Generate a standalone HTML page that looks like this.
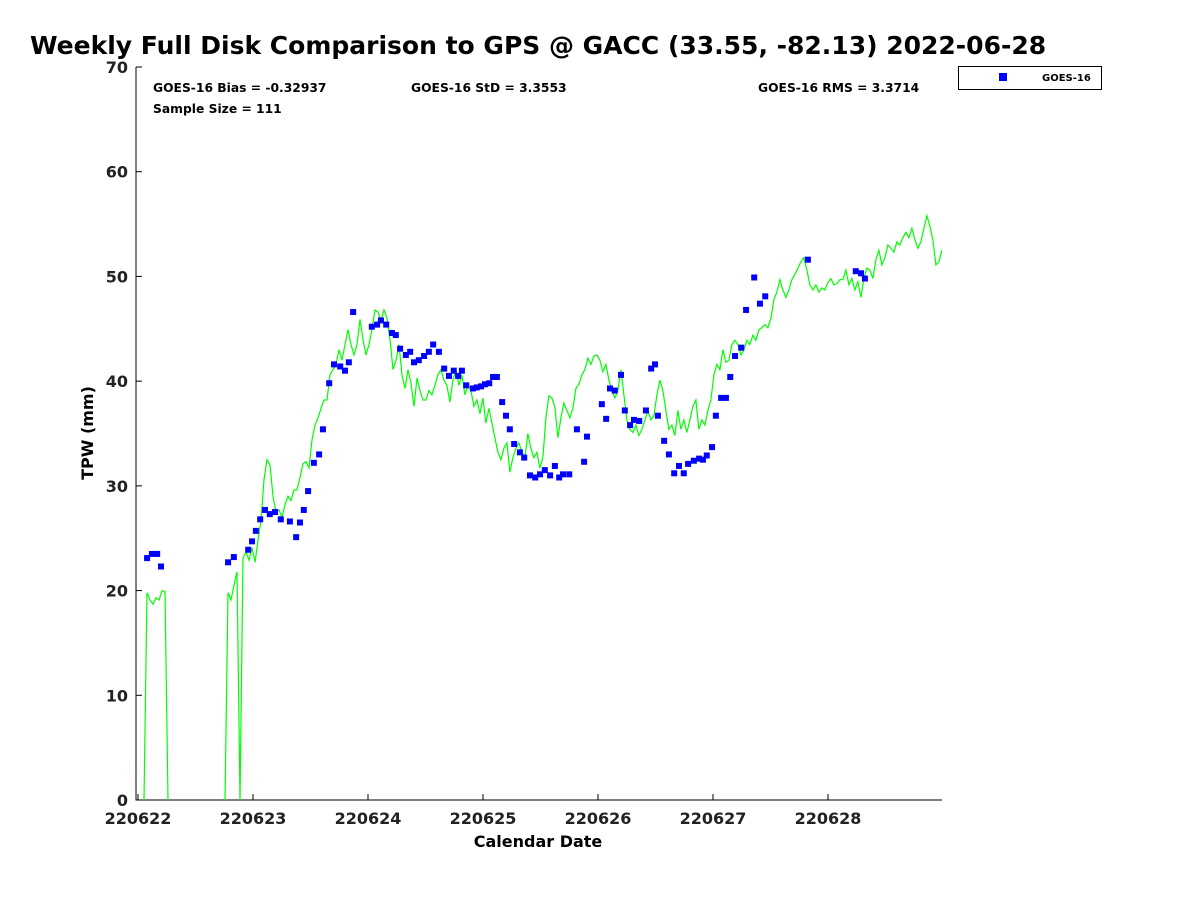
<!DOCTYPE html>
<html><head><meta charset="utf-8"><style>
body{margin:0;background:#fff;}
svg{display:block;font-family:"DejaVu Sans","Liberation Sans",sans-serif;}
</style></head><body>
<svg id="chart" width="1200" height="900" viewBox="0 0 1200 900" xmlns="http://www.w3.org/2000/svg">
<rect width="1200" height="900" fill="#fff"/>
<text x="30" y="54" font-size="25" font-weight="bold">Weekly Full Disk Comparison to GPS @ GACC (33.55, -82.13) 2022-06-28</text>
<g id="plot"></g>
<text x="153" y="92" font-size="12.3" font-weight="bold">GOES-16 Bias = -0.32937</text>
<text x="411" y="92" font-size="12.3" font-weight="bold">GOES-16 StD = 3.3553</text>
<text x="758" y="92" font-size="12.3" font-weight="bold">GOES-16 RMS = 3.3714</text>
<text x="153" y="113" font-size="12.3" font-weight="bold">Sample Size = 111</text>
<g>
<rect x="958.5" y="66.5" width="143" height="23" fill="#fff" stroke="#000" stroke-width="1"/>
<rect x="999" y="73" width="8" height="8" fill="#0000ff"/>
<text x="1042" y="81" font-size="10" font-weight="bold">GOES-16</text>
</g>
<text x="538" y="847" font-size="16" font-weight="bold" text-anchor="middle">Calendar Date</text>
<text transform="translate(93,433) rotate(-90)" font-size="16" font-weight="bold" text-anchor="middle">TPW (mm)</text>
</svg>
<script>
const xTickLabels=["220622","220623","220624","220625","220626","220627","220628"];
const yTickValues=[0,10,20,30,40,50,60,70];
const goesHours=[1.9,2.9,4.0,4.8,18.8,20.0,23.0,23.8,24.6,25.5,26.5,27.5,28.6,29.8,31.7,33.0,33.8,34.6,35.5,36.7,37.8,38.6,39.9,40.9,42.2,43.2,44.0,44.9,48.8,49.9,50.7,51.8,53.0,53.8,54.7,55.9,56.8,57.6,58.6,59.7,60.7,61.6,62.8,63.9,64.9,65.9,66.8,67.6,68.5,69.9,70.7,71.6,72.4,73.3,74.1,74.9,76.0,76.8,77.6,78.5,79.7,80.6,81.8,82.9,83.9,84.9,86.0,87.0,87.9,88.7,90.0,91.6,93.1,93.7,96.8,97.7,98.5,99.5,100.8,101.6,102.7,103.5,104.6,106.0,107.1,107.9,108.5,109.8,110.8,111.9,112.9,113.9,114.8,116.0,117.1,117.9,118.7,119.8,120.6,121.7,122.7,123.6,124.6,125.9,126.9,128.6,129.8,130.9,139.8,149.8,150.9,151.7];
const goesTPW=[23.1,23.5,23.5,22.3,22.7,23.2,23.9,24.7,25.7,26.8,27.7,27.3,27.5,26.8,26.6,25.1,26.5,27.7,29.5,32.2,33.0,35.4,39.8,41.6,41.4,41.0,41.8,46.6,45.2,45.4,45.8,45.4,44.6,44.4,43.1,42.5,42.8,41.8,42.0,42.4,42.8,43.5,42.8,41.2,40.5,41.0,40.5,41.0,39.6,39.3,39.4,39.5,39.7,39.8,40.4,40.4,38.0,36.7,35.4,34.0,33.2,32.7,31.0,30.8,31.1,31.5,31.0,31.9,30.8,31.1,31.1,35.4,32.3,34.7,37.8,36.4,39.3,39.1,40.6,37.2,35.8,36.3,36.2,37.2,41.2,41.6,36.7,34.3,33.0,31.2,31.9,31.2,32.1,32.4,32.6,32.5,32.9,33.7,36.7,38.4,38.4,40.4,42.4,43.2,46.8,49.9,47.4,48.1,51.6,50.5,50.3,49.8];
const gpsStartHour=1.25;
const gpsStepHours=0.626;
const gpsTPW=[0,19.8,19.1,18.7,19.3,19.1,20.0,19.9,0,null,null,null,null,null,null,null,null,null,null,null,null,null,null,null,null,null,null,0,19.8,19.1,20.5,21.8,0,23.1,23.7,22.9,24.1,22.7,24.8,26.7,30.6,32.5,32.0,29.0,27.5,27.7,27.0,28.2,29.0,28.6,29.6,29.6,30.8,32.1,32.3,31.7,34.4,35.8,36.5,37.4,38.2,38.2,40.6,41.1,41.6,43.0,42.0,43.5,44.9,43.5,42.5,43.5,45.9,44.0,42.5,43.5,45.0,46.8,46.6,45.8,46.8,46.0,44.0,41.1,42.0,43.5,40.6,39.3,41.1,39.8,37.6,40.3,39.1,38.2,38.2,39.1,38.7,39.6,40.6,41.1,40.1,39.6,38.0,40.1,41.1,39.6,40.6,38.7,39.6,39.1,37.6,38.2,36.9,38.4,36.0,37.4,36.0,34.6,33.2,32.5,33.6,34.1,31.3,32.7,33.6,34.1,33.2,32.7,35.0,33.6,32.7,33.2,31.7,32.7,36.5,38.6,38.4,37.5,34.6,36.5,37.9,37.2,36.5,37.4,39.3,39.7,40.6,41.1,42.2,41.6,42.4,42.5,42.0,40.9,41.6,40.1,39.1,38.4,39.1,41.1,38.7,36.3,35.4,35.1,35.8,34.8,35.4,36.3,37.2,36.3,36.7,38.7,40.1,39.1,37.2,35.4,35.8,34.8,37.2,35.4,36.3,35.1,36.3,37.6,38.2,35.4,36.3,35.8,37.2,38.2,40.6,41.6,41.1,43.0,41.8,42.0,43.5,43.9,43.5,42.5,43.0,43.9,43.5,44.4,43.9,44.9,45.1,45.4,45.1,46.0,47.8,48.5,49.7,48.7,48.0,48.7,49.7,50.2,50.8,51.4,51.8,50.6,49.2,48.7,49.2,48.5,48.9,48.7,49.4,49.8,49.2,49.3,49.7,49.7,50.6,49.2,49.8,48.7,49.5,48.0,49.8,50.8,50.6,49.8,51.6,52.5,51.1,51.8,53.0,52.7,52.3,53.3,53.0,53.7,54.2,53.7,54.6,53.5,52.7,53.3,54.6,55.8,54.8,53.5,51.1,51.4,52.5];

const NS='http://www.w3.org/2000/svg';
const L=136,R=942,T=67,B=800;
function xs(h){return 138+h*115/24;}
function ys(v){return B-(v/70)*(B-T);}
const g=document.getElementById('plot');
function mk(tag,attrs){const e=document.createElementNS(NS,tag);for(const k in attrs)e.setAttribute(k,attrs[k]);g.appendChild(e);return e;}

const ax=mk('path',{d:`M${L},${T} V${B} H${R}`,fill:'none',stroke:'#000','stroke-width':1});


yTickValues.forEach(v=>{
  const y=ys(v);
  const t=mk('line',{x1:L,x2:L+6,y1:y,y2:y,stroke:'#000'});
  
  
  const tx=mk('text',{x:L-8,y:y+6,'font-size':16,'font-weight':'bold','text-anchor':'end',fill:'#222'});
  tx.textContent=v;
  
  
});
xTickLabels.forEach((lab,i)=>{
  const x=xs(i*24);
  const t=mk('line',{x1:x,x2:x,y1:B,y2:B-6,stroke:'#000'});
  
  
  const tx=mk('text',{x:x,y:B+24,'font-size':16,'font-weight':'bold','text-anchor':'middle',fill:'#222'});
  tx.textContent=lab;
  
  
});

let d='',pen=false;
gpsTPW.forEach((v,i)=>{
  if(v===null){pen=false;return;}
  const x=xs(gpsStartHour+i*gpsStepHours),y=ys(v);
  d+=(pen?'L':'M')+x.toFixed(1)+','+y.toFixed(1)+' ';pen=true;
});
const line=mk('path',{d:d,fill:'none',stroke:'#00ff00','stroke-width':1.2});



goesHours.forEach((h,i)=>{
  const p=mk('rect',{x:xs(h)-3,y:ys(goesTPW[i])-3,width:6,height:6,fill:'#0000ff'});
  
  
});
</script>
</body></html>
